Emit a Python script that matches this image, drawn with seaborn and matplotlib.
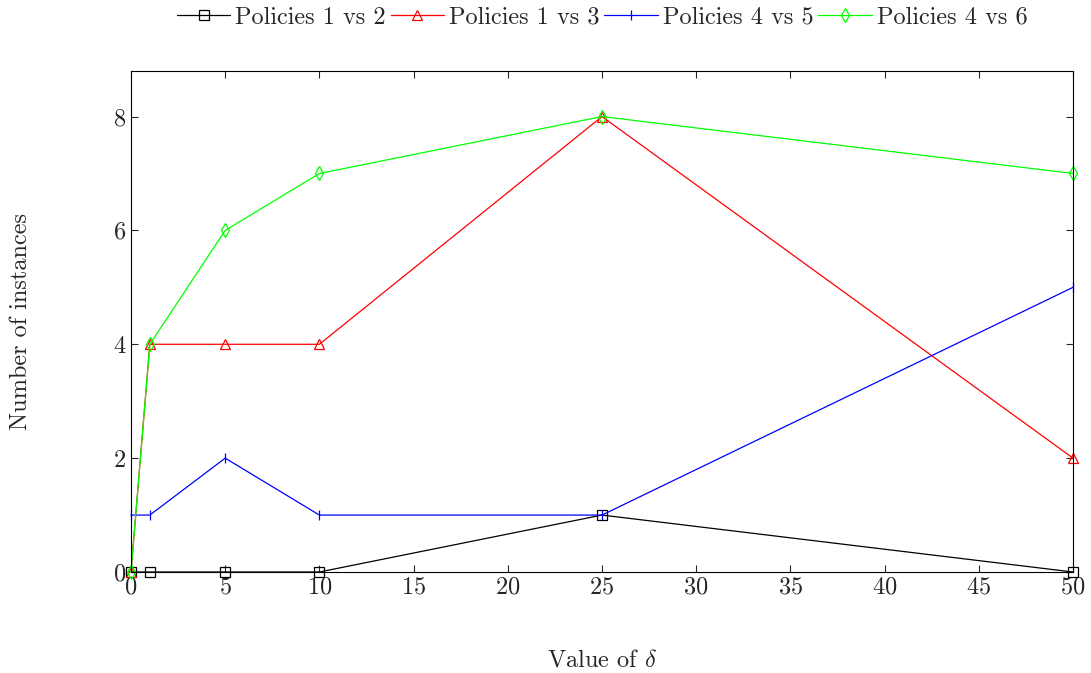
import numpy as np
import pandas as pd
from matplotlib import pyplot as plt
import seaborn as sns

# values
delta = [0, 1, 5, 10, 25, 50]
p12 = [0, 0, 0, 0, 1, 0]
p13 = [0, 4, 4, 4, 8, 2]
p45 = [1, 1, 2, 1, 1, 5]
p46 = [0, 4, 6, 7, 8, 7]
labels = ['Policies 1 vs 2', 'Policies 1 vs 3', 'Policies 4 vs 5', 'Policies 4 vs 6']

sns.set_theme(style='ticks')
plt.rcParams['font.family'] = ['cmr10', 'DejaVu Serif']
plt.rcParams['mathtext.fontset'] = 'cm'
plt.rcParams['axes.formatter.use_mathtext'] = True
plt.rcParams['axes.unicode_minus'] = False

fig = plt.figure(figsize=(10.91, 6.73), dpi=100)
ax = fig.add_axes([131 / 1091, 1 - 572 / 673, (1073 - 131) / 1091, (572 - 71) / 673])

styles = [('black', 's'), ('red', '^'), ('blue', '|'), ('#00ff00', 'd')]
series = [p12, p13, p45, p46]
for vals, lab, (col, mk) in zip(series, labels, styles):
    df = pd.DataFrame({'delta': delta, 'count': vals})
    sns.lineplot(data=df, x='delta', y='count', ax=ax, color=col, marker=mk,
                 markersize=7.5, markerfacecolor='none', markeredgecolor=col,
                 markeredgewidth=0.9, linewidth=0.9, label=lab, clip_on=False)

ax.set_xlim(0, 50)
ax.set_ylim(0, 8.8)
ax.set_xticks(np.arange(0, 51, 5))
ax.set_yticks([0, 2, 4, 6, 8])
ax.tick_params(direction='in', top=True, right=True, labelsize=17.5, length=5, width=0.8)
for s in ax.spines.values():
    s.set_linewidth(0.8)
    s.set_color('black')
ax.set_xlabel(r'Value of $\delta$', fontsize=17.5, labelpad=36)
ax.set_ylabel('Number of instances', fontsize=17.5, labelpad=58)

ax.legend(loc='lower center', bbox_to_anchor=(0.5, 1.065), ncol=4, frameon=False,
          fontsize=17.5, handlelength=2.2, handletextpad=0.2, columnspacing=0.2,
          borderaxespad=0)

fig.savefig('out.png', dpi=100)
